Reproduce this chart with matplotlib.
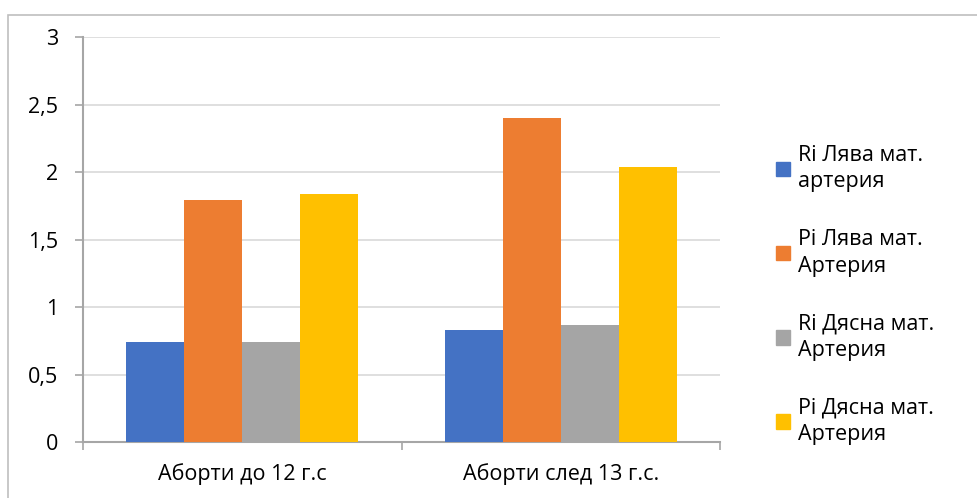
import matplotlib
matplotlib.use("Agg")
import matplotlib.pyplot as plt
import matplotlib.patches as mpatches
import numpy as np

plt.rcParams["font.family"] = ["Open Sans", "DejaVu Sans"]

categories = ["Аборти до 12 г.с", "Аборти след 13 г.с."]
series_names = ["Ri Лява мат.\nартерия", "Pi Лява мат.\nАртерия",
                "Ri Дясна мат.\nАртерия", "Pi Дясна мат.\nАртерия"]
ri_left = [0.74, 0.83]
pi_left = [1.79, 2.40]
ri_right = [0.74, 0.87]
pi_right = [1.84, 2.04]
y_ticks = [0, 0.5, 1, 1.5, 2, 2.5, 3]
y_tick_labels = ["0", "0,5", "1", "1,5", "2", "2,5", "3"]

COLORS = ["#4472C4", "#ED7D31", "#A5A5A5", "#FFC000"]
GRID = "#D9D9D9"
AXIS = "#A6A6A6"
FS = 15.5

fig = plt.figure(figsize=(9.78, 4.98), dpi=100)
ax = fig.add_axes([83 / 978, 56 / 498, 637 / 978, 405 / 498])

x = np.arange(len(categories))
bar_w = 0.182
values = [ri_left, pi_left, ri_right, pi_right]
for i, (vals, color, name) in enumerate(zip(values, COLORS, series_names)):
    ax.bar(x + (i - 1.5) * bar_w, vals, width=bar_w, color=color,
           label=name, zorder=3)

ax.set_xlim(-0.5, len(categories) - 0.5)
ax.set_ylim(0, 3)
ax.set_yticks(y_ticks)
ax.set_yticklabels(y_tick_labels)
ax.yaxis.grid(True, color=GRID, linewidth=1.2, zorder=0)
ax.set_axisbelow(True)

ax.set_xticks(x)
ax.set_xticklabels(categories)
ax.set_xticks(np.arange(-0.5, len(categories)), minor=True)
ax.tick_params(axis="x", which="major", length=0, pad=15, labelsize=FS)
ax.tick_params(axis="x", which="minor", length=6, color=AXIS, width=1.2)
ax.tick_params(axis="y", length=6, color=AXIS, width=1.2, pad=12, labelsize=FS)

for side in ["top", "right"]:
    ax.spines[side].set_visible(False)
for side in ["left", "bottom"]:
    ax.spines[side].set_color(AXIS)
    ax.spines[side].set_linewidth(1.5)

handles = [mpatches.Patch(color=c, label=n) for c, n in zip(COLORS, series_names)]
leg = fig.legend(handles=handles, loc="center left", bbox_to_anchor=(0.774, 0.408),
                 frameon=False, fontsize=FS, handlelength=0.65, handleheight=0.65,
                 handletextpad=0.35, labelspacing=1.7)
for t in leg.get_texts():
    t.set_linespacing(1.35)

# outer chart frame
fig.add_artist(mpatches.Rectangle((8 / 978, -0.1), 1.2, (498 - 15) / 498 + 0.1,
                                  transform=fig.transFigure, fill=False,
                                  edgecolor="#BFBFBF", linewidth=1.2))

fig.savefig("out.png", dpi=100)
